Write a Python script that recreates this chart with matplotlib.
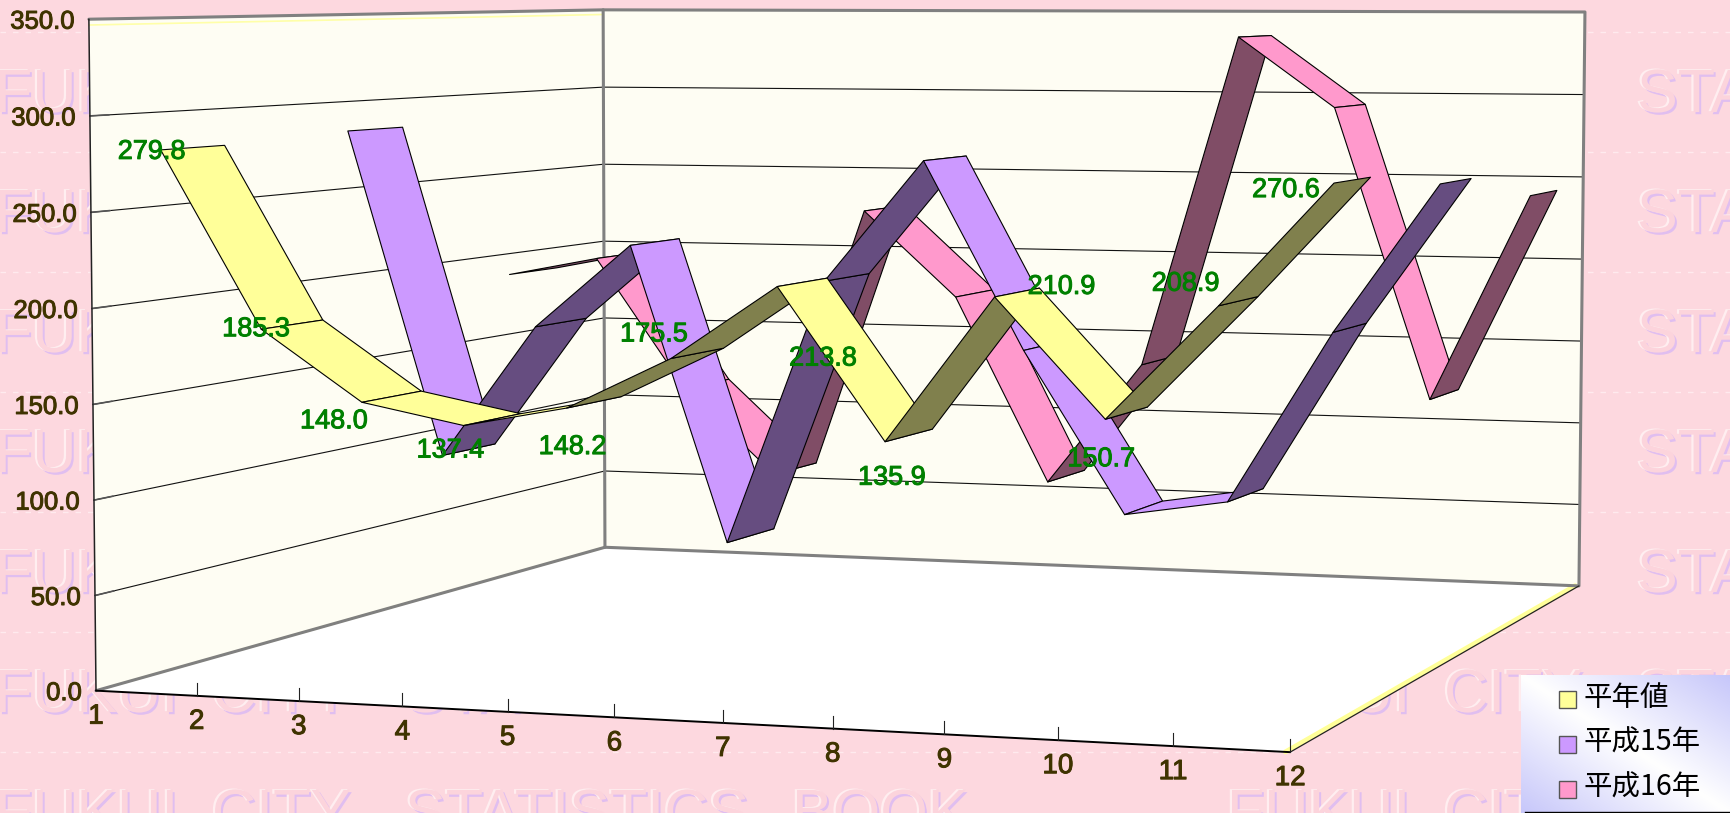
import numpy as np
import matplotlib
matplotlib.use("Agg")
from matplotlib import pyplot as plt
from matplotlib.patches import Polygon, Rectangle
import matplotlib.patheffects as pe

months = list(range(1, 13))
y_ticks = [0, 50, 100, 150, 200, 250, 300, 350]

normal = [279.8, 185.3, 148.0, 137.4, 148.2, 175.5, 213.8, 135.9, 210.9, 150.7, 208.9, 270.6]
h15 = [283, 97, 172.5, 220, 53, 202, 270, 166, 77, 86, 180, 261]
h16 = [187, 198, 119, 68, 230, 179, 69, 141, 336, 295, 125, 245]

names = ["平年値", "平成15年", "平成16年"]
top_colors = ["#FFFF99", "#CC99FF", "#FF99CC"]
under_colors = ["#80804D", "#664D80", "#804D66"]
depths = [1 / 6, 1 / 2, 5 / 6]
half_width = 0.054

# offsets of the data labels from the front edge of the yellow ribbon, px
label_nudge = [(-9, 2), (-5, 0), (-28, 19), (-13, 25), (6, 39), (-17, -24),
               (46, 72), (7, 36), (67, -10), (-4, 40), (-33, -22), (-48, 7)]

# where the corners of the chart box land on the picture
box_corners = [((1, 0, 0), (96, 691)), ((1, 0, 350), (89, 19)),
               ((1, 1, 0), (605, 547)), ((1, 1, 350), (603, 10)),
               ((12, 1, 0), (1579, 586)), ((12, 1, 350), (1585, 12)),
               ((12, 0, 0), (1290, 752))]

BG = "#FDD8DF"
WALL = "#FEFDF3"
GREY = "#808080"
AXIS_TEXT = "#3F3300"
GREEN = "#008000"
LATIN = "Liberation Sans"


def fit_camera():
    rows = []
    for (m, d, v), (u, w) in box_corners:
        p = [m, d, v / 350, 1]
        rows.append(p + [0, 0, 0, 0] + [-u * c for c in p])
        rows.append([0, 0, 0, 0] + p + [-w * c for c in p])
    return np.linalg.svd(np.array(rows, dtype=float))[2][-1].reshape(3, 4)


CAM = fit_camera()


def project(m, d, v):
    h = CAM @ np.array([m, d, v / 350, 1])
    return h[0] / h[2], h[1] / h[2]


def line3d(ax, pts, **kw):
    xy = np.array([project(*p) for p in pts])
    ax.plot(xy[:, 0], xy[:, 1], solid_capstyle="round", **kw)


def watermark(ax):
    emboss = [pe.SimplePatchShadow(offset=(1.4, -1.6), shadow_rgbFace="#E0BEF0", alpha=1),
              pe.SimplePatchShadow(offset=(-1.6, 0.6), shadow_rgbFace="#FFEEF0", alpha=1),
              pe.Normal()]
    words = [("FUKUI", 0), ("CITY", 217), ("STATISTICS", 410), ("BOOK", 797)]
    for row in range(62, 800, 120):
        for start in (-5, 1227):
            for word, off in words:
                # most of the rows are hidden by the chart box anyway
                if row < 640 and not ((start < 0 and off == 0) or (start > 0 and off == 410)):
                    continue
                ax.text(start + off, row + 50, word, fontsize=44, color="#FCD4DC", zorder=1.2,
                        family=LATIN, ha="left", va="baseline", clip_on=True, path_effects=emboss)
    for y in range(32, 813, 120):
        ax.plot([0, 1730], [y, y], color="#FFEAEE", lw=1, ls=(0, (4, 5)), zorder=1)


def box(ax):
    left = [project(1, 0, 0), project(1, 0, 350), project(1, 1, 350), project(1, 1, 0)]
    back = [project(1, 1, 0), project(1, 1, 350), project(12, 1, 350), project(12, 1, 0)]
    floor = [project(1, 0, 0), project(12, 0, 0), project(12, 1, 0), project(1, 1, 0)]
    ax.add_patch(Polygon(left, fc=WALL, ec="none", zorder=2))
    ax.add_patch(Polygon(back, fc=WALL, ec="none", zorder=2))
    ax.add_patch(Polygon(floor, fc="white", ec="none", zorder=2))

    # yellow rims the original has along some edges
    line3d(ax, [(1, 0, 347), (1, 1, 347)], color="#FFFFA8", lw=1.2, zorder=2.1)
    line3d(ax, [(11.96, 0, 0), (11.96, 1, 0)], color="#FFFF99", lw=3.5, zorder=2.1)
    line3d(ax, [(1, 0.02, 0), (1, 1, 0)], color="#FFFF99", lw=1.5, zorder=2.1)

    for v in y_ticks[1:-1]:
        line3d(ax, [(1, 0, v), (1, 1, v), (12, 1, v)], color="#111111", lw=0.8, zorder=2.2)
        line3d(ax, [(1, 0, v), (1, 0.03, v)], color="#555555", lw=1.2, zorder=2.2)

    for pts in ([(1, 0, 350), (1, 1, 350), (12, 1, 350), (12, 1, 0), (1, 1, 0), (1, 0, 0)],
                [(1, 1, 0), (1, 1, 350)]):
        line3d(ax, pts, color=GREY, lw=2.2, zorder=2.3)
    line3d(ax, [(1, 0, 0), (1, 0, 350)], color="#222222", lw=1.1, zorder=2.4)
    line3d(ax, [(1, 0, 0), (12, 0, 0)], color="black", lw=1.4, zorder=2.4)
    line3d(ax, [(12, 0, 0), (12, 1, 0)], color="#222222", lw=0.9, zorder=2.4)


def axis_labels(ax):
    effect = [pe.withStroke(linewidth=0.7, foreground=AXIS_TEXT)]
    for v in y_ticks:
        x, y = project(1, 0, v)
        ax.text(x - 14, y, "%.1f" % v, fontsize=18.5, color=AXIS_TEXT, family=LATIN, ha="right",
                va="center_baseline", zorder=6, path_effects=effect)
    for m in months:
        x, y = project(m, 0, 0)
        if m > 1:
            ax.plot([x, x], [y, y - 13], color="#222222", lw=0.8, zorder=2.4)
        ax.text(x, y + 23, str(m), fontsize=20, color=AXIS_TEXT, family=LATIN, ha="center",
                va="center_baseline", zorder=6, path_effects=effect)


def ribbon(ax, values, depth, top, under, z):
    front = [project(m, depth - half_width, v) for m, v in zip(months, values)]
    rear = [project(m, depth + half_width, v) for m, v in zip(months, values)]
    for i in range(len(months) - 1):
        quad = np.array([front[i], rear[i], rear[i + 1], front[i + 1]])
        a = quad[2] - quad[0]
        b = quad[3] - quad[1]
        # which side of the ribbon the viewer sees
        color = top if a[0] * b[1] - a[1] * b[0] > 0 else under
        ax.add_patch(Polygon(quad, fc=color, ec="black", lw=0.8, joinstyle="round", zorder=z + i * 0.01))


def data_labels(ax):
    effect = [pe.withStroke(linewidth=0.7, foreground=GREEN)]
    for m, v, (dx, dy) in zip(months, normal, label_nudge):
        x, y = project(m, depths[0] - half_width, v)
        ax.text(x + dx, y + dy, "%.1f" % v, fontsize=19.5, color=GREEN, family=LATIN, ha="center",
                va="center", zorder=7, path_effects=effect)


def legend(ax):
    x0, x1, y0, y1 = 1521, 1730, 675, 813
    u, w = np.meshgrid(np.linspace(0, 1, 120), np.linspace(0, 1, 80))
    t = np.abs(u - w)[..., None]
    img = (1 - t) * np.array([1, 1, 1]) + t * np.array([0.78, 0.78, 0.98])
    ax.imshow(img, extent=(x0, x1, y1, y0), aspect="auto", zorder=8, interpolation="bilinear")
    ax.plot([1525, 1730], [811.5, 811.5], color="black", lw=1, zorder=8.5)
    for i, (name, color) in enumerate(zip(names, top_colors)):
        cy = 699 + 45 * i
        ax.add_patch(Rectangle((1559, cy - 8.5), 17, 17, fc=color, ec="#555555", lw=1, zorder=9))
        ax.text(1584, cy - 1, name, fontsize=20.5, family=["Noto Sans CJK JP", "DejaVu Sans"],
                color="black", va="center", ha="left", zorder=9)


def main():
    fig = plt.figure(figsize=(17.30, 8.13), dpi=100, facecolor=BG)
    ax = fig.add_axes([0, 0, 1, 1])
    ax.set_facecolor(BG)

    watermark(ax)
    box(ax)
    axis_labels(ax)
    series = [normal, h15, h16]
    for k in (2, 1, 0):
        ribbon(ax, series[k], depths[k], top_colors[k], under_colors[k], 3 + (2 - k))
    data_labels(ax)
    legend(ax)

    ax.set_xlim(0, 1730)
    ax.set_ylim(813, 0)
    ax.axis("off")
    fig.savefig("out.png", dpi=100, facecolor=BG)


if __name__ == "__main__":
    main()
